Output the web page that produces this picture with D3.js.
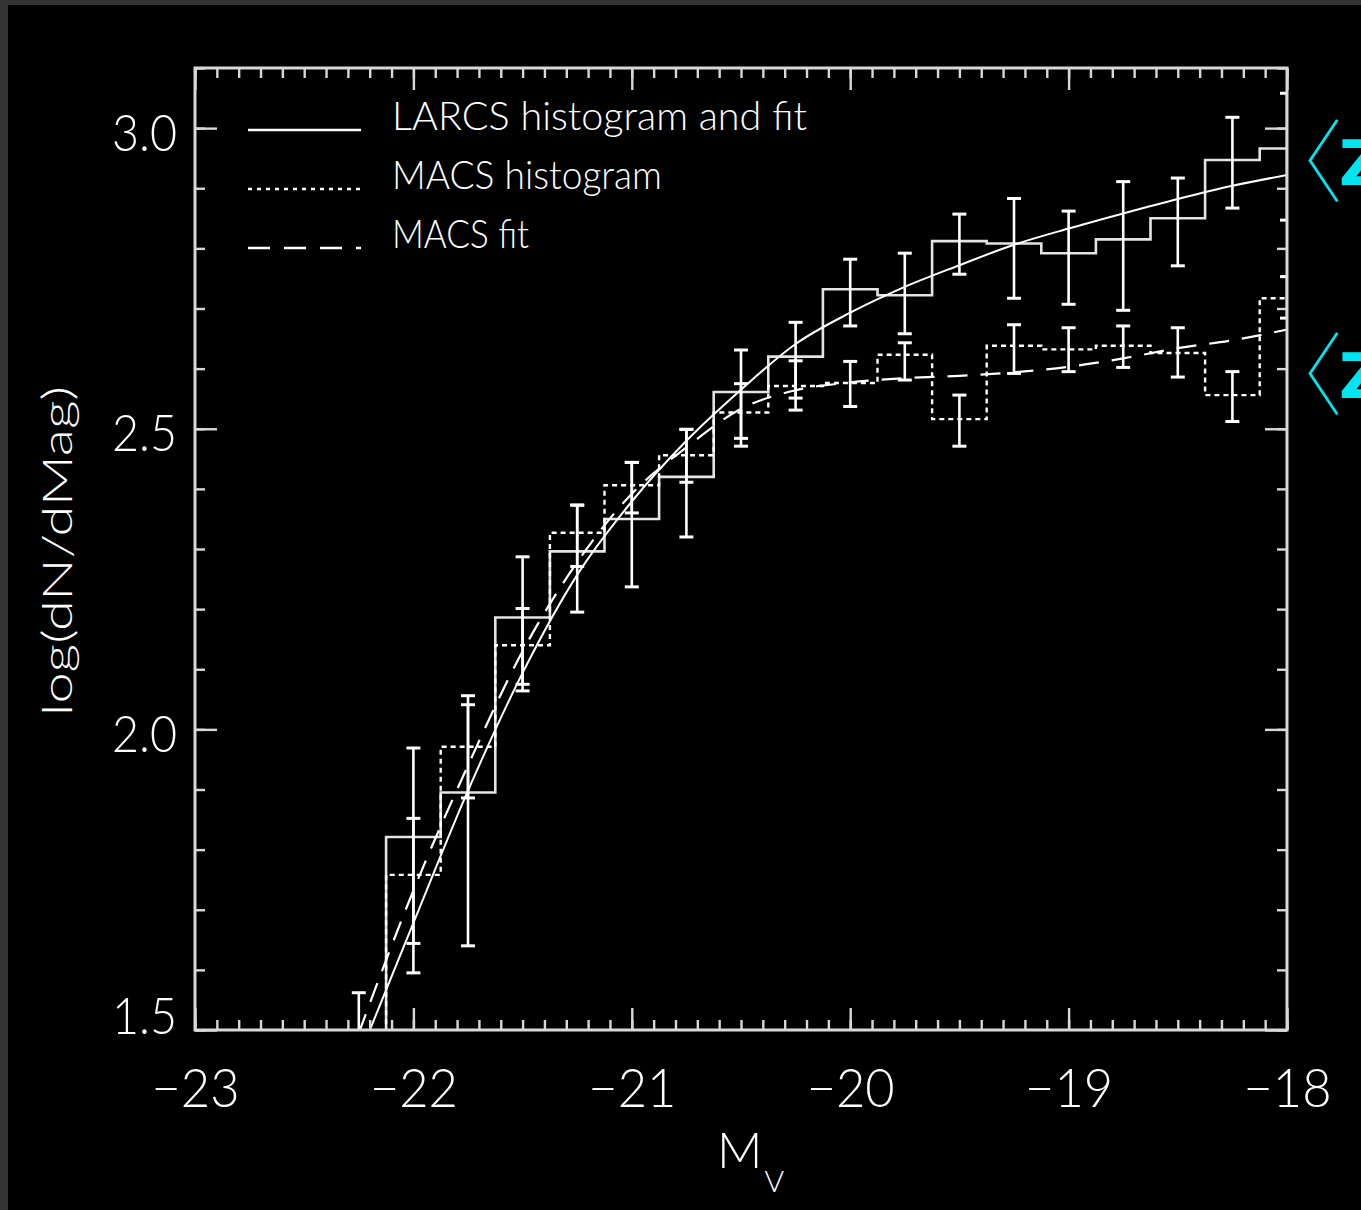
<!DOCTYPE html>
<html>
<head>
<meta charset="utf-8">
<script src="https://cdn.jsdelivr.net/npm/d3@7"></script>
<style>
  html, body { margin: 0; padding: 0; background: #000; }
  svg { display: block; }
</style>
</head>
<body>
<script>
// Luminosity function: bin centres (M_V) and log(dN/dMag) per survey
const binCenters = [-22.25, -22.0, -21.75, -21.5, -21.25, -21.0, -20.75, -20.5, -20.25,
                    -20.0, -19.75, -19.5, -19.25, -19.0, -18.75, -18.5, -18.25, -18.0];

const larcsHist  = [null, 1.821, 1.895, 2.186, 2.296, 2.350, 2.420, 2.561, 2.620,
                    2.732, 2.722, 2.812, 2.808, 2.792, 2.815, 2.850, 2.947, 2.966];
const larcsErrHi = [null, 1.969, 2.041, 2.287, 2.373, 2.444, 2.499, 2.631, 2.677,
                    2.782, 2.792, 2.857, 2.883, 2.862, 2.911, 2.917, 3.018, 3.058];
const larcsErrLo = [null, 1.644, 1.640, 2.075, 2.195, 2.237, 2.320, 2.484, 2.551,
                    2.671, 2.658, 2.757, 2.717, 2.707, 2.697, 2.771, 2.867, 2.847];

const macsHist   = [null, 1.758, 1.971, 2.140, 2.327, 2.406, 2.456, 2.527, 2.571,
                    2.576, 2.623, 2.516, 2.638, 2.632, 2.638, 2.626, 2.556, 2.717];
const macsErrHi  = [1.562, 1.852, 2.056, 2.201, 2.373, 2.444, 2.499, 2.575, 2.613,
                    2.612, 2.643, 2.556, 2.673, 2.668, 2.671, 2.668, 2.595, 2.753];
const macsErrLo  = [1.350, 1.595, 1.886, 2.064, 2.271, 2.360, 2.411, 2.471, 2.531,
                    2.537, 2.581, 2.471, 2.592, 2.595, 2.602, 2.586, 2.512, 2.684];

// Schechter fits sampled along M_V
const fitMags  = [-22.25, -22.0, -21.75, -21.5, -21.25, -21.0, -20.75, -20.5, -20.25,
                  -20.0, -19.75, -19.5, -19.25, -19.0, -18.75, -18.5, -18.25, -18.0];
const larcsFit = [1.455, 1.678, 1.898, 2.094, 2.257, 2.379, 2.480, 2.565, 2.641,
                  2.693, 2.736, 2.772, 2.806, 2.833, 2.858, 2.882, 2.904, 2.922];
const macsFit  = [1.495, 1.732, 1.940, 2.130, 2.278, 2.392, 2.469, 2.533, 2.564,
                  2.577, 2.584, 2.588, 2.594, 2.603, 2.617, 2.634, 2.647, 2.665];

const xMajor = [-23, -22, -21, -20, -19, -18];
const yMajor = [1.5, 2.0, 2.5, 3.0];
const legendLabels = ["LARCS histogram and fit", "MACS histogram", "MACS fit"];
const sideBracket = "\u3008";
const sideSymbol = "Z";

const W = 1361, H = 1210;
const box = { left: 195, right: 1287, top: 68, bottom: 1030 };
const binWidth = 0.25;
const FONT = "Lato, 'DejaVu Sans', sans-serif";
const INK = "#ffffff";
const CYAN = "#00e6f0";

const svg = d3.select("body").append("svg").attr("width", W).attr("height", H);

// page frame
svg.append("rect").attr("width", W).attr("height", H).attr("fill", "#000");
svg.append("rect").attr("x", 0).attr("y", 0).attr("width", 8).attr("height", H).attr("fill", "#333");
svg.append("rect").attr("x", 0).attr("y", 0).attr("width", W).attr("height", 5).attr("fill", "#333");

const x = d3.scaleLinear().domain([-23, -18]).range([box.left, box.right]);
const y = d3.scaleLinear().domain([1.5, 3.1]).range([box.bottom, box.top]);

svg.append("clipPath").attr("id", "plotclip")
  .append("rect").attr("x", box.left).attr("y", box.top)
  .attr("width", box.right - box.left).attr("height", box.bottom - box.top);

const plot = svg.append("g").attr("clip-path", "url(#plotclip)");

// step outline of a histogram series
function stepPoints(vals) {
  const pts = [];
  let started = false;
  vals.forEach((v, i) => {
    if (v == null) return;
    const l = binCenters[i] - binWidth / 2, r = binCenters[i] + binWidth / 2;
    if (!started) { pts.push([l, y.domain()[0] - 0.2]); started = true; }
    pts.push([l, v], [r, v]);
  });
  return pts;
}
const stepLine = d3.line().x(d => x(d[0])).y(d => y(d[1]));
const fitLine = d3.line().x(d => x(d[0])).y(d => y(d[1])).curve(d3.curveMonotoneX);

// LARCS histogram (solid)
plot.append("path").attr("d", stepLine(stepPoints(larcsHist)))
  .attr("fill", "none").attr("stroke", "#e4e4e4").attr("stroke-width", 2.6);

// MACS histogram (dotted)
plot.append("path").attr("d", stepLine(stepPoints(macsHist)))
  .attr("fill", "none").attr("stroke", INK).attr("stroke-width", 2.4)
  .attr("stroke-dasharray", "5,4");

// LARCS fit (solid)
plot.append("path").attr("d", fitLine(fitMags.map((m, i) => [m, larcsFit[i]])))
  .attr("fill", "none").attr("stroke", INK).attr("stroke-width", 2);

// MACS fit (dashed)
plot.append("path").attr("d", fitLine(fitMags.map((m, i) => [m, macsFit[i]])))
  .attr("fill", "none").attr("stroke", INK).attr("stroke-width", 2.2)
  .attr("stroke-dasharray", "20,13");

// error bars for both surveys
function errorBars(hi, lo) {
  const data = binCenters.map((m, i) => ({ m, hi: hi[i], lo: lo[i] })).filter(d => d.hi != null);
  const g = plot.append("g").attr("stroke", INK);
  g.selectAll("line.v").data(data).join("line").attr("class", "v")
    .attr("x1", d => x(d.m)).attr("x2", d => x(d.m))
    .attr("y1", d => y(d.hi)).attr("y2", d => y(d.lo)).attr("stroke-width", 2.6);
  ["hi", "lo"].forEach(k => {
    g.selectAll("line.c" + k).data(data).join("line").attr("class", "c" + k)
      .attr("x1", d => x(d.m) - 7).attr("x2", d => x(d.m) + 7)
      .attr("y1", d => y(d[k])).attr("y2", d => y(d[k])).attr("stroke-width", 3);
  });
}
errorBars(larcsErrHi, larcsErrLo);
errorBars(macsErrHi, macsErrLo);

// axes: major + minor ticks pointing inward on all four sides
const xMinor = d3.range(-23, -17.95, 0.1).map(v => +v.toFixed(1));
const yMinor = d3.range(1.5, 3.101, 0.1).map(v => +v.toFixed(1));
const axisColor = "#d8d8d8";

function styleAxis(g) {
  g.select(".domain").remove();
  g.selectAll(".tick line").attr("stroke", axisColor).attr("stroke-width", 2.4);
}

svg.append("g").attr("transform", `translate(0,${box.bottom})`)
  .call(d3.axisBottom(x).tickValues(xMinor).tickSize(-10).tickFormat("")).call(styleAxis);
svg.append("g").attr("transform", `translate(0,${box.top})`)
  .call(d3.axisTop(x).tickValues(xMinor).tickSize(-10).tickFormat("")).call(styleAxis);
svg.append("g").attr("transform", `translate(${box.left},0)`)
  .call(d3.axisLeft(y).tickValues(yMinor).tickSize(-10).tickFormat("")).call(styleAxis);
svg.append("g").attr("transform", `translate(${box.right},0)`)
  .call(d3.axisRight(y).tickValues(yMinor).tickSize(-10).tickFormat("")).call(styleAxis);

const xAxis = svg.append("g").attr("transform", `translate(0,${box.bottom})`)
  .call(d3.axisBottom(x).tickValues(xMajor).tickSize(-22).tickFormat(d3.format("d")))
  .call(styleAxis);
xAxis.selectAll("text")
  .attr("y", 77).attr("dy", 0).attr("fill", INK)
  .attr("font-family", FONT).attr("font-weight", 300).attr("font-size", 53)
  .attr("textLength", 88).attr("lengthAdjust", "spacingAndGlyphs");

svg.append("g").attr("transform", `translate(0,${box.top})`)
  .call(d3.axisTop(x).tickValues(xMajor).tickSize(-22).tickFormat("")).call(styleAxis);

const yAxis = svg.append("g").attr("transform", `translate(${box.left},0)`)
  .call(d3.axisLeft(y).tickValues(yMajor).tickSize(-22).tickPadding(18).tickFormat(d3.format(".1f")))
  .call(styleAxis);
yAxis.selectAll("text")
  .attr("dy", 0).attr("y", d => Math.min(22, box.bottom + 3 - y(d)))
  .attr("fill", INK)
  .attr("font-family", FONT).attr("font-weight", 300).attr("font-size", 52)
  .attr("textLength", 65).attr("lengthAdjust", "spacingAndGlyphs");

svg.append("g").attr("transform", `translate(${box.right},0)`)
  .call(d3.axisRight(y).tickValues(yMajor).tickSize(-22).tickFormat("")).call(styleAxis);

// frame
svg.append("rect").attr("x", box.left).attr("y", box.top)
  .attr("width", box.right - box.left).attr("height", box.bottom - box.top)
  .attr("fill", "none").attr("stroke", axisColor).attr("stroke-width", 3);

// axis titles
svg.append("text")
  .attr("transform", `translate(72,${(box.top + box.bottom) / 2 + 2}) rotate(-90)`)
  .attr("text-anchor", "middle").attr("fill", INK)
  .attr("font-family", FONT).attr("font-weight", 300).attr("font-size", 41)
  .attr("textLength", 330).attr("lengthAdjust", "spacingAndGlyphs")
  .text("log(dN/dMag)");

const xt = svg.append("text").attr("x", 717).attr("y", 1168).attr("fill", INK)
  .attr("font-family", FONT).attr("font-weight", 300).attr("font-size", 50);
xt.append("tspan").text("M");
xt.append("tspan").attr("dx", 2).attr("dy", 24).attr("font-size", 30).text("V");

// legend
const legendStyles = [
  { dash: null, w: 2.4 },
  { dash: "4,5", w: 2.4 },
  { dash: "22,14", w: 2.4 }
];
const legend = svg.append("g");
legendLabels.forEach((lab, i) => {
  const yy = 130 + i * 59;
  legend.append("line").attr("x1", 248).attr("x2", 361).attr("y1", yy).attr("y2", yy)
    .attr("stroke", INK).attr("stroke-width", legendStyles[i].w)
    .attr("stroke-dasharray", legendStyles[i].dash);
  legend.append("text").attr("x", 392).attr("y", yy).attr("fill", INK)
    .attr("font-family", FONT).attr("font-weight", 300).attr("font-size", 39)
    .attr("textLength", [415, 270, 137][i]).attr("lengthAdjust", "spacingAndGlyphs")
    .text(lab);
});

// cyan side labels: tall thin angle bracket followed by a bold Z
[185, 398].forEach(base => {
  const t = svg.append("text").attr("x", 1253).attr("y", base + 10).attr("fill", CYAN);
  t.append("tspan")
    .attr("font-family", "'Noto Sans CJK SC', sans-serif").attr("font-weight", 100)
    .attr("font-size", 90)
    .text(sideBracket);
  t.append("tspan").attr("dx", -4).attr("dy", -10)
    .attr("font-family", "'DejaVu Sans', sans-serif").attr("font-weight", "bold")
    .attr("font-size", 62)
    .text(sideSymbol);
});
</script>
</body>
</html>
